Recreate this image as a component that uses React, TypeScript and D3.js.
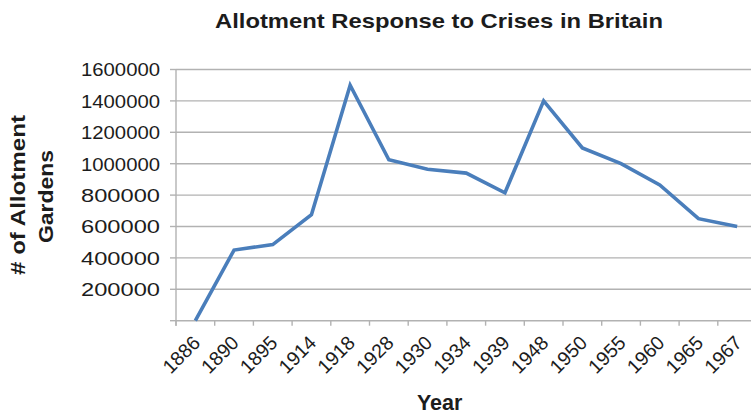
import React from "react";
import * as d3 from "d3";

const years: string[] = ["1886", "1890", "1895", "1914", "1918", "1928", "1930", "1934", "1939", "1948", "1950", "1955", "1960", "1965", "1967"];
const gardens: number[] = [0, 450000, 485000, 675000, 1500000, 1025000, 965000, 940000, 815000, 1400000, 1100000, 1000000, 865000, 650000, 600000];
const yTicks: number[] = [200000, 400000, 600000, 800000, 1000000, 1200000, 1400000, 1600000];
const gridTicks: number[] = [0, 200000, 400000, 600000, 800000, 1000000, 1200000, 1400000, 1600000];

const W = 751;
const H = 415;
const FONT = "'Liberation Sans', Arial, Helvetica, sans-serif";
const GRID = "#b2b2b2";
const TEXT = "#1c1c1c";

export default function App() {
  const x = d3.scaleBand<string>().domain(years).range([176, 756.5]).padding(0);
  const y = d3.scaleLinear().domain([0, 1600000]).range([320.7, 69.5]);
  const cx = (d: string) => (x(d) as number) + x.bandwidth() / 2;

  const line = d3
    .line<number>()
    .x((_, i) => cx(years[i]))
    .y((v) => y(v));

  const x0 = 176;
  const y0 = y(0);
  const boundaries = years.map((d) => x(d) as number).concat([756.5]);

  return (
    <svg width={W} height={H} style={{ position: "absolute", left: 0, top: 0, background: "#fff" }} fontFamily={FONT}>
      <rect x={0} y={0} width={W} height={H} fill="#fff" />
      {/* title */}
      <text x={215} y={28.3} fontSize={21} fontWeight="bold" fill={TEXT} textLength={448} lengthAdjust="spacingAndGlyphs">
        Allotment Response to Crises in Britain
      </text>
      {/* gridlines */}
      {gridTicks.map((t) => (
        <line key={"g" + t} x1={x0} x2={760} y1={y(t)} y2={y(t)} stroke={GRID} strokeWidth={1.4} />
      ))}
      {/* y axis line and ticks */}
      <line x1={x0} x2={x0} y1={y(1600000)} y2={y0 + 5} stroke={GRID} strokeWidth={1.4} />
      {gridTicks.map((t) => (
        <line key={"yt" + t} x1={x0 - 6} x2={x0} y1={y(t)} y2={y(t)} stroke={GRID} strokeWidth={1.4} />
      ))}
      {/* x axis ticks */}
      {boundaries.map((b, i) => (
        <line key={"xt" + i} x1={b} x2={b} y1={y0} y2={y0 + 5} stroke={GRID} strokeWidth={1.4} />
      ))}
      {/* y tick labels */}
      {yTicks.map((t) => (
        <text key={"yl" + t} x={160} y={y(t)} dy="0.36em" textAnchor="end" fontSize={19} fill={TEXT} textLength={79} lengthAdjust="spacingAndGlyphs">
          {String(t)}
        </text>
      ))}
      {/* x tick labels */}
      {years.map((d) => (
        <text
          key={"xl" + d}
          transform={`translate(${cx(d) + 6},${344}) rotate(-45)`}
          textAnchor="end"
          fontSize={19.5}
          fill={TEXT}
        >
          {d}
        </text>
      ))}
      {/* data line */}
      <path d={line(gardens) || ""} fill="none" stroke="#4a7ebb" strokeWidth={3.6} strokeLinejoin="miter" />
      {/* axis titles */}
      <text x={439.7} y={410} textAnchor="middle" fontSize={21.5} fontWeight="bold" fill={TEXT}>
        Year
      </text>
      <text transform="translate(25,195) rotate(-90)" textAnchor="middle" fontSize={21} fontWeight="bold" fill={TEXT} textLength={160} lengthAdjust="spacingAndGlyphs">
        # of Allotment
      </text>
      <text transform="translate(53.3,196.5) rotate(-90)" textAnchor="middle" fontSize={21} fontWeight="bold" fill={TEXT} textLength={93} lengthAdjust="spacingAndGlyphs">
        Gardens
      </text>
    </svg>
  );
}
